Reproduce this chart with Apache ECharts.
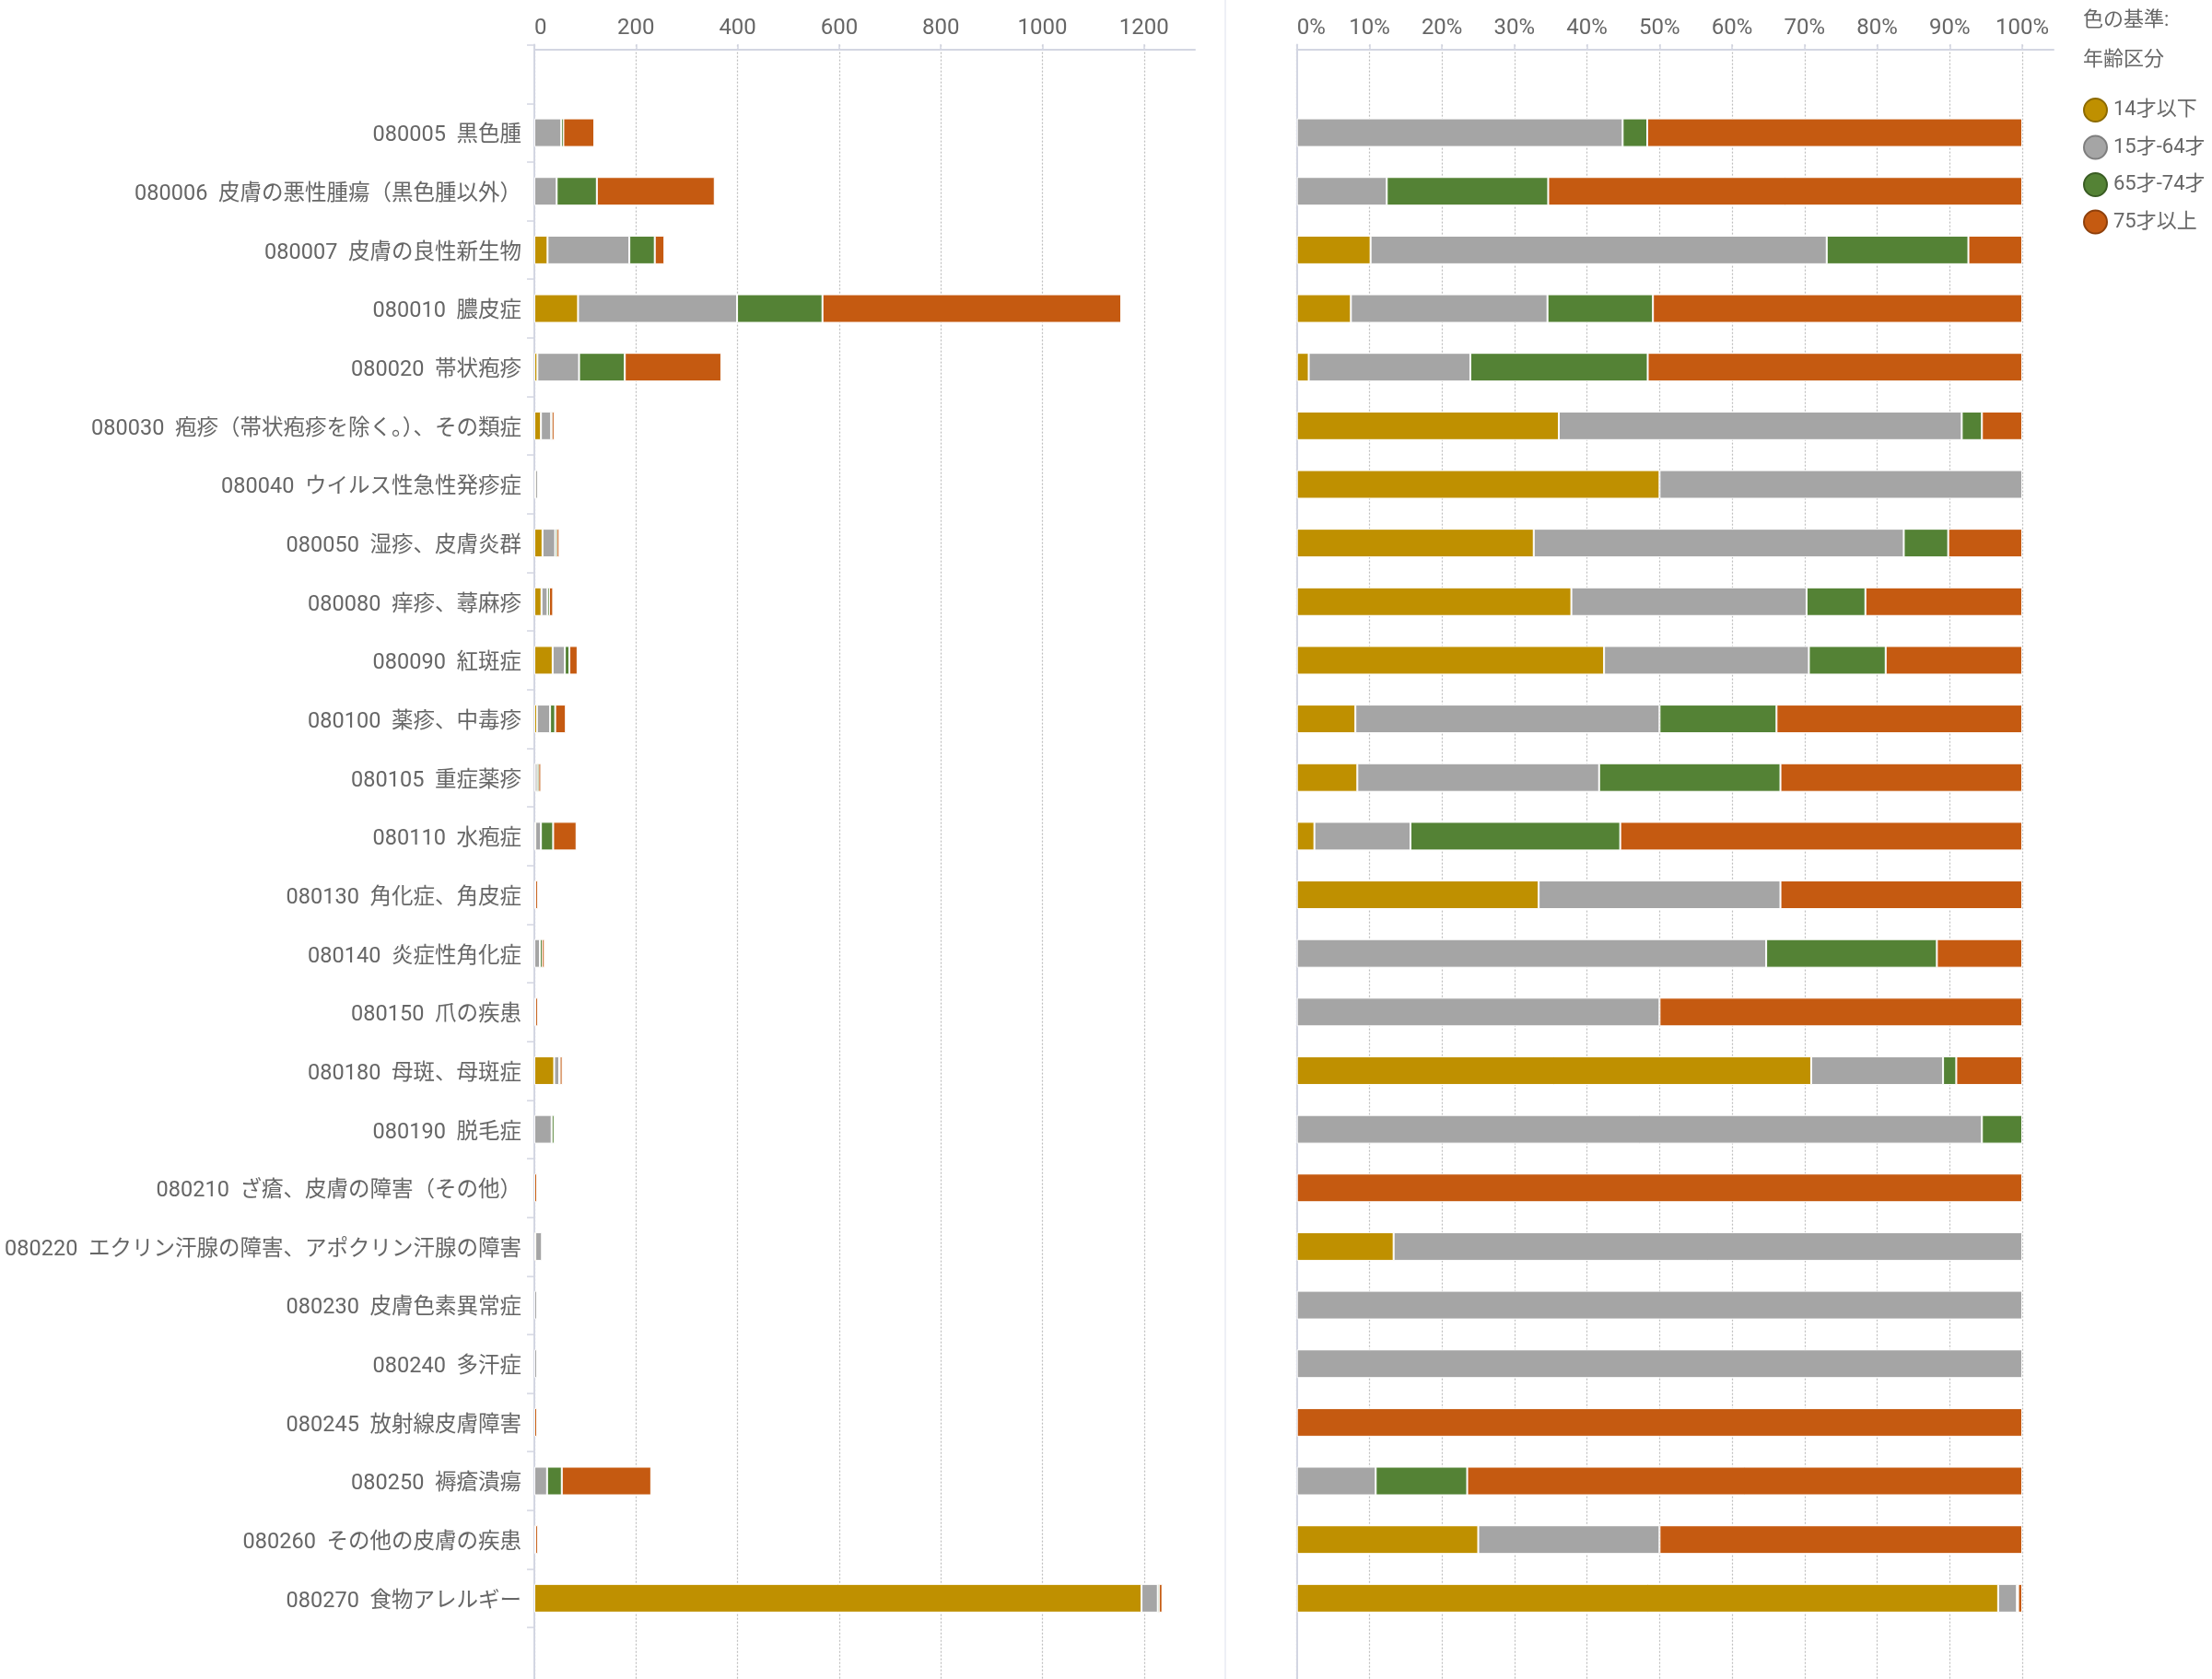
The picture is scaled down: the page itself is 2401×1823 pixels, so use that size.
<!DOCTYPE html>
<html><head><meta charset="utf-8">
<script src="https://cdn.jsdelivr.net/npm/echarts@6/dist/echarts.min.js"></script>
<style>html,body{margin:0;padding:0;background:#fff}#c{width:2401px;height:1823px}</style>
</head><body><div id="c"></div><script>
const categories = [
  '080005  黒色腫',
  '080006  皮膚の悪性腫瘍（黒色腫以外）',
  '080007  皮膚の良性新生物',
  '080010  膿皮症',
  '080020  帯状疱疹',
  '080030  疱疹（帯状疱疹を除く。）、その類症',
  '080040  ウイルス性急性発疹症',
  '080050  湿疹、皮膚炎群',
  '080080  痒疹、蕁麻疹',
  '080090  紅斑症',
  '080100  薬疹、中毒疹',
  '080105  重症薬疹',
  '080110  水疱症',
  '080130  角化症、角皮症',
  '080140  炎症性角化症',
  '080150  爪の疾患',
  '080180  母斑、母斑症',
  '080190  脱毛症',
  '080210  ざ瘡、皮膚の障害（その他）',
  '080220  エクリン汗腺の障害、アポクリン汗腺の障害',
  '080230  皮膚色素異常症',
  '080240  多汗症',
  '080245  放射線皮膚障害',
  '080250  褥瘡潰瘍',
  '080260  その他の皮膚の疾患',
  '080270  食物アレルギー'
];
const age0_14  = [0, 0, 26, 86, 6, 13, 2, 16, 14, 36, 5, 1, 2, 1, 0, 0, 39, 0, 0, 2, 0, 0, 0, 0, 1, 1195];
const age15_64 = [53, 44, 161, 313, 82, 20, 2, 25, 12, 24, 26, 4, 11, 1, 11, 2, 10, 34, 0, 13, 3, 2, 0, 25, 1, 32];
const age65_74 = [4, 79, 50, 168, 90, 1, 0, 3, 3, 9, 10, 3, 24, 0, 4, 0, 1, 2, 0, 0, 0, 0, 0, 29, 0, 2];
const age75up  = [61, 232, 19, 588, 190, 2, 0, 5, 8, 16, 21, 4, 46, 1, 2, 2, 5, 0, 3, 0, 0, 0, 3, 176, 2, 7];
const seriesNames = ['14才以下', '15才-64才', '65才-74才', '75才以上'];
const countTicks = [0, 200, 400, 600, 800, 1000, 1200];
const pctTicks = [0, 0.1, 0.2, 0.3, 0.4, 0.5, 0.6, 0.7, 0.8, 0.9, 1.0];

const colors = ['#BF9000', '#A5A5A5', '#548235', '#C55A11'];
const borderColors = ['#8C6A00', '#7E7E7E', '#3A5C24', '#8E400C'];
const FONT = 'Roboto, "Noto Sans CJK JP", sans-serif';
const AXIS_COLOR = '#D3D6E2';

const groups = [age0_14, age15_64, age65_74, age75up];
const totals = categories.map((_, i) => groups.reduce((s, g) => s + g[i], 0));
const yData = [''].concat(categories, ['']);
const pad = arr => [null].concat(arr.map(v => v === 0 ? null : v), [null]);

const series = [];
groups.forEach((g, k) => {
  series.push({
    name: seriesNames[k], type: 'bar', stack: 'count', xAxisIndex: 0, yAxisIndex: 0,
    barWidth: 31, barMinHeight: 3, data: pad(g),
    itemStyle: { color: colors[k], borderColor: '#fff', borderWidth: 1 }
  });
});
groups.forEach((g, k) => {
  series.push({
    name: seriesNames[k], type: 'bar', stack: 'pct', xAxisIndex: 1, yAxisIndex: 1,
    barWidth: 31, data: pad(g.map((v, i) => totals[i] ? v / totals[i] : 0)),
    itemStyle: { color: colors[k], borderColor: '#fff', borderWidth: 1 }
  });
});

const TOP = 48.6, BAND = 63.65, H = BAND * 28;
const xCommon = {
  position: 'top', offset: -5.4,
  axisLine: { show: true, lineStyle: { color: AXIS_COLOR, width: 2 } },
  axisTick: { show: true, length: 6, lineStyle: { color: AXIS_COLOR, width: 1.5 } },
  splitLine: { show: true, lineStyle: { color: '#BDBDBD', width: 1.2, type: [2, 2] } },
  axisLabel: { fontSize: 24, color: '#666', fontFamily: FONT, margin: 11, alignMinLabel: 'left' }
};

const chart = echarts.init(document.getElementById('c'), null, { renderer: 'canvas', width: 2401, height: 1823 });
chart.setOption({
  backgroundColor: '#fff',
  animation: false,
  textStyle: { fontFamily: FONT },
  title: [
    { text: '色の基準:', left: 2256, top: 6, textStyle: { fontSize: 22, fontWeight: 'normal', color: '#666', fontFamily: FONT } },
    { text: '年齢区分', left: 2256, top: 49, textStyle: { fontSize: 22, fontWeight: 'normal', color: '#666', fontFamily: FONT } }
  ],
  legend: {
    orient: 'vertical', left: 2256, top: 101, itemWidth: 25, itemHeight: 25, itemGap: 13.5,
    icon: 'circle', selectedMode: false,
    textStyle: { fontSize: 22, color: '#666', fontFamily: FONT, padding: [0, 0, 0, 2] },
    data: seriesNames.map((n, i) => ({ name: n, itemStyle: { color: colors[i], borderColor: borderColors[i], borderWidth: 2 } }))
  },
  grid: [
    { left: 580, top: TOP, width: 717, height: H, outerBoundsMode: 'none', containLabel: false },
    { left: 1407.7, top: TOP, width: 821.3, height: H, outerBoundsMode: 'none', containLabel: false }
  ],
  xAxis: [
    Object.assign({}, xCommon, {
      type: 'value', gridIndex: 0, min: 0, max: 1300,
      axisLabel: Object.assign({}, xCommon.axisLabel, { customValues: countTicks, formatter: v => String(v) }),
      axisTick: Object.assign({}, xCommon.axisTick, { customValues: countTicks })
    }),
    Object.assign({}, xCommon, {
      type: 'value', gridIndex: 1, min: 0, max: 1.0432,
      axisLabel: Object.assign({}, xCommon.axisLabel, { customValues: pctTicks, formatter: v => Math.round(v * 100) + '%' }),
      axisTick: Object.assign({}, xCommon.axisTick, { customValues: pctTicks })
    })
  ],
  yAxis: [
    {
      type: 'category', gridIndex: 0, inverse: true, data: yData,
      axisLine: { show: true, lineStyle: { color: AXIS_COLOR, width: 2 } },
      axisTick: { show: true, length: 8, inside: false, lineStyle: { color: AXIS_COLOR, width: 1.5 } },
      axisLabel: {
        fontSize: 23.5, color: '#666', fontFamily: FONT, margin: 14, interval: 0,
        formatter: v => v ? '{a|' + v + '}' : '',
        rich: { a: { fontSize: 23.5, color: '#666', fontFamily: FONT, padding: [7, 0, 0, 0] } }
      },
      splitLine: { show: false }
    },
    {
      type: 'category', gridIndex: 1, inverse: true, data: yData,
      axisLine: { show: true, lineStyle: { color: AXIS_COLOR, width: 2 } },
      axisTick: { show: false }, axisLabel: { show: false }, splitLine: { show: false }
    }
  ],
  graphic: [
    { type: 'line', shape: { x1: 1330, y1: 0, x2: 1330, y2: 1823 }, style: { stroke: '#EEF0F6', lineWidth: 2 }, silent: true }
  ],
  series: series
});
</script></body></html>
